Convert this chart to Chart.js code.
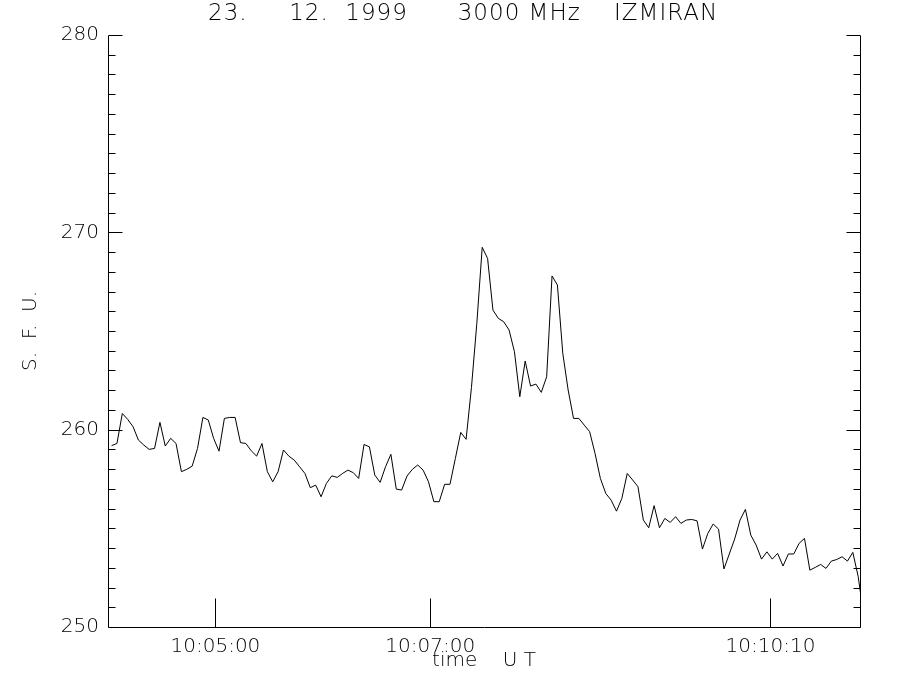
<!DOCTYPE html>
<html>
<head>
<meta charset="utf-8">
<title>23.12.1999 3000 MHz IZMIRAN</title>
<script src="https://cdn.jsdelivr.net/npm/chart.js@4.4.1/dist/chart.umd.min.js"></script>
<style>
    html, body { margin: 0; padding: 0; background: #fff; }
    canvas { display: block; }
</style>
</head>
<body>
<canvas id="fluxChart" width="900" height="700"></canvas>
<script>
// flux samples, S.F.U., one every 3 s starting 10:04:02 UT
const fluxValues = [
    259.19, 259.30, 260.82, 260.52, 260.15, 259.47, 259.22, 259.00, 259.05, 260.37,
    259.17, 259.56, 259.30, 257.87, 257.99, 258.15, 259.05, 260.62, 260.49, 259.56,
    258.91, 260.57, 260.62, 260.62, 259.34, 259.30, 258.93, 258.66, 259.30, 257.87,
    257.36, 257.87, 258.97, 258.66, 258.46, 258.12, 257.78, 257.06, 257.19, 256.60,
    257.28, 257.66, 257.58, 257.78, 257.95, 257.82, 257.53, 259.25, 259.13, 257.70,
    257.33, 258.12, 258.75, 256.99, 256.94, 257.65, 257.99, 258.21, 257.95, 257.36,
    256.35, 256.35, 257.23, 257.23, 258.54, 259.86, 259.51, 262.14, 265.39, 269.24,
    268.68, 266.06, 265.64, 265.47, 265.05, 263.95, 261.67, 263.48, 262.21, 262.31,
    261.89, 262.68, 267.79, 267.33, 263.87, 262.01, 260.57, 260.57, 260.23, 259.90,
    258.80, 257.53, 256.77, 256.43, 255.87, 256.52, 257.78, 257.45, 257.11, 255.42,
    255.03, 256.15, 255.03, 255.50, 255.30, 255.59, 255.25, 255.42, 255.45, 255.38,
    253.95, 254.74, 255.22, 254.96, 252.94, 253.70, 254.46, 255.42, 255.96, 254.66,
    254.15, 253.44, 253.81, 253.44, 253.73, 253.09, 253.70, 253.70, 254.24, 254.49,
    252.88, 253.02, 253.17, 252.97, 253.34, 253.42, 253.56, 253.34, 253.78, 252.55,
    250.60
];
const firstSampleSec = 2;   // seconds after 10:04:00
const sampleStepSec = 3;

// x axis: seconds after 10:04:00
const xRange = [0, 420];
const xTickSec = [60, 180, 370];
const xTickLabels = ['10:05:00', '10:07:00', '10:10:10'];

const yRange = [250, 280];
const yMajorTicks = [250, 260, 270, 280];
const yMinorStep = 1;

const titleText = '23.     12.  1999      3000 MHz    IZMIRAN';
const xTitle = 'time    U T';
const yTitle = 'S.  F.  U.';

const fluxPoints = fluxValues.map((v, i) => ({ x: firstSampleSec + i * sampleStepSec, y: v }));

Chart.defaults.font.family = '"DejaVu Sans", sans-serif';
Chart.defaults.font.weight = 200;
Chart.defaults.color = '#000';

// IDL style frame: left / bottom / right axes, ticks pointing inward, no top line
const idlFrame = {
    id: 'idlFrame',
    afterDraw(chart) {
        const { ctx, chartArea: a, scales: { x, y } } = chart;
        const L = Math.round(a.left) + 0.5;
        const R = Math.round(a.right) + 0.5;
        const B = Math.round(a.bottom) + 0.5;
        const T = Math.round(a.top) + 0.5;

        ctx.save();
        ctx.strokeStyle = '#000';
        ctx.lineWidth = 1;
        ctx.beginPath();
        ctx.moveTo(L, T); ctx.lineTo(L, B); ctx.lineTo(R, B); ctx.lineTo(R, T);

        for (let v = yRange[0]; v <= yRange[1]; v += yMinorStep) {
            const py = Math.round(y.getPixelForValue(v)) + 0.5;
            const len = yMajorTicks.includes(v) ? 14 : 7;
            ctx.moveTo(L, py); ctx.lineTo(L + len, py);
            ctx.moveTo(R, py); ctx.lineTo(R - len, py);
        }
        xTickSec.forEach(s => {
            const px = Math.round(x.getPixelForValue(s)) + 0.5;
            ctx.moveTo(px, B); ctx.lineTo(px, B - 29);
        });
        ctx.stroke();

        // title, thin and widely spaced like the IDL vector font
        ctx.fillStyle = '#000';
        ctx.font = '200 23px "DejaVu Sans", sans-serif';
        ctx.letterSpacing = '1px';
        ctx.textAlign = 'left';
        ctx.textBaseline = 'middle';
        ctx.fillText(titleText, 208, 14);
        ctx.restore();
    }
};

new Chart(document.getElementById('fluxChart'), {
    type: 'line',
    data: {
        datasets: [{
            data: fluxPoints,
            borderColor: '#000',
            borderWidth: 1,
            pointRadius: 0,
            tension: 0,
            fill: false,
            clip: 0
        }]
    },
    options: {
        responsive: false,
        animation: false,
        events: [],
        layout: { padding: { top: 35, right: 40, left: 0, bottom: 0 } },
        plugins: {
            legend: { display: false },
            tooltip: { enabled: false }
        },
        scales: {
            x: {
                type: 'linear',
                min: xRange[0],
                max: xRange[1],
                grid: { display: false, drawTicks: false },
                border: { display: false },
                afterBuildTicks: scale => {
                    scale.ticks = xTickSec.map(v => ({ value: v }));
                },
                afterFit: scale => { scale.height = 73; },
                ticks: {
                    autoSkip: false,
                    maxRotation: 0,
                    padding: 8,
                    font: { size: 20 },
                    callback: value => xTickLabels[xTickSec.indexOf(value)]
                },
                title: {
                    display: true,
                    text: xTitle,
                    font: { size: 20 },
                    padding: { top: 0, bottom: 27 }
                }
            },
            y: {
                min: yRange[0],
                max: yRange[1],
                grid: { display: false, drawTicks: false },
                border: { display: false },
                afterBuildTicks: scale => {
                    scale.ticks = yMajorTicks.map(v => ({ value: v }));
                },
                afterFit: scale => { scale.width = 108; },
                ticks: {
                    padding: 9,
                    font: { size: 20 }
                },
                title: {
                    display: true,
                    text: yTitle,
                    font: { size: 20 },
                    padding: { top: 19, bottom: 0 }
                }
            }
        }
    },
    plugins: [idlFrame]
});
</script>
</body>
</html>
